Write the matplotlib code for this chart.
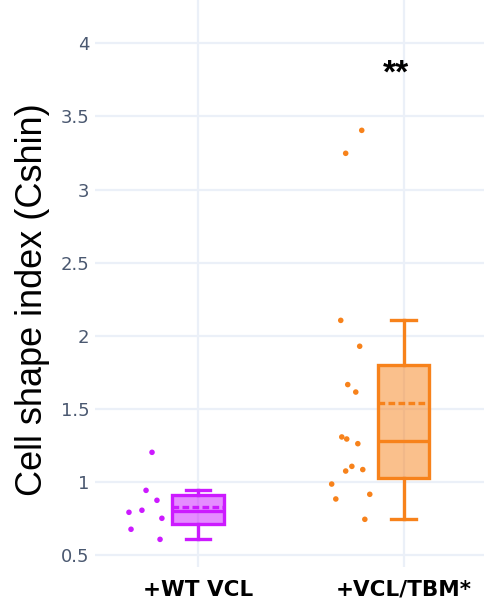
import numpy as np
import matplotlib
matplotlib.use("Agg")
import matplotlib.pyplot as plt
from matplotlib.colors import to_rgba

# Cell shape index values (one list per group)
categories = ["+WT VCL", "+VCL/TBM*"]
wt_vcl = [1.204, 0.944, 0.876, 0.794, 0.808, 0.753, 0.678, 0.609]
vcl_tbm = [3.405, 3.248, 2.106, 1.929, 1.667, 1.616, 1.309, 1.295,
           1.263, 1.108, 1.076, 1.086, 0.987, 0.885, 0.917, 0.746]
# horizontal jitter of the points (category units, left of the box)
wt_jitter = [-0.223, -0.252, -0.199, -0.335, -0.272, -0.175, -0.325, -0.184]
tbm_jitter = [-0.204, -0.282, -0.306, -0.214, -0.272, -0.233, -0.301, -0.277,
              -0.223, -0.252, -0.282, -0.199, -0.350, -0.330, -0.165, -0.189]
y_ticks = [0.5, 1, 1.5, 2, 2.5, 3, 3.5, 4]
signif = "**"

colors = ["#cc1aff", "#f7821b"]
grid_color = "#ebf0f8"


def hinge_stats(vals):
    # quartiles as medians of the lower / upper halves (plotly style)
    v = np.sort(np.asarray(vals))
    half = len(v) // 2
    q1 = np.median(v[:half])
    q3 = np.median(v[-half:])
    iqr = q3 - q1
    lo = v[v >= q1 - 1.5 * iqr].min()
    hi = v[v <= q3 + 1.5 * iqr].max()
    return dict(med=np.median(v), q1=q1, q3=q3, whislo=lo, whishi=hi,
                mean=v.mean(), fliers=[])


fig = plt.figure(figsize=(4.84, 6.01), dpi=100)
ax = fig.add_axes([95 / 484, 34 / 601, 389 / 484, 567 / 601])

groups = [wt_vcl, vcl_tbm]
jitters = [wt_jitter, tbm_jitter]

for i, (vals, jit, c) in enumerate(zip(groups, jitters, colors)):
    st = hinge_stats(vals)
    ax.bxp([st], positions=[i], widths=0.25, capwidths=[0.12],
           patch_artist=True, showmeans=True, meanline=True, showfliers=False,
           boxprops=dict(facecolor=to_rgba(c, 0.5), edgecolor=c, linewidth=2.4),
           medianprops=dict(color=c, linewidth=2.4),
           meanprops=dict(color=c, linewidth=2.4, linestyle=(0, (2, 1))),
           whiskerprops=dict(color=c, linewidth=2.4),
           capprops=dict(color=c, linewidth=2.4), zorder=3)
    ax.scatter(np.array(jit) + i, vals, s=16, color=c, edgecolors="none", zorder=4)

ax.set_xlim(-0.5, 1.39)
ax.set_ylim(0.42, 4.296)
ax.set_yticks(y_ticks)
ax.set_yticklabels([f"{t:g}" for t in y_ticks])
ax.set_xticks(range(len(categories)))
ax.set_xticklabels(categories)

for lbl in ax.get_xticklabels():
    lbl.set_fontfamily("DejaVu Sans")
    lbl.set_fontweight("bold")
    lbl.set_fontsize(15.5)
    lbl.set_color("black")
for lbl in ax.get_yticklabels():
    lbl.set_fontfamily("DejaVu Sans")
    lbl.set_fontsize(13)
    lbl.set_color("#4a5870")

ax.tick_params(axis="both", length=0)
ax.tick_params(axis="x", pad=9)
ax.tick_params(axis="y", pad=4)
for s in ax.spines.values():
    s.set_visible(False)
ax.grid(True, color=grid_color, linewidth=1.6, zorder=0)
ax.set_axisbelow(True)

ax.set_ylabel("Cell shape index (Cshin)", fontsize=26, family="Liberation Sans",
              color="black")
ax.yaxis.label.set_va("center")
ax.yaxis.set_label_coords((33 - 95) / 389, (567 - 300) / 567)

ax.text(0.96, 3.79, signif, ha="center", va="center", fontsize=24,
        fontweight="bold", family="Liberation Sans", color="black")

fig.savefig("out.png", dpi=100)
